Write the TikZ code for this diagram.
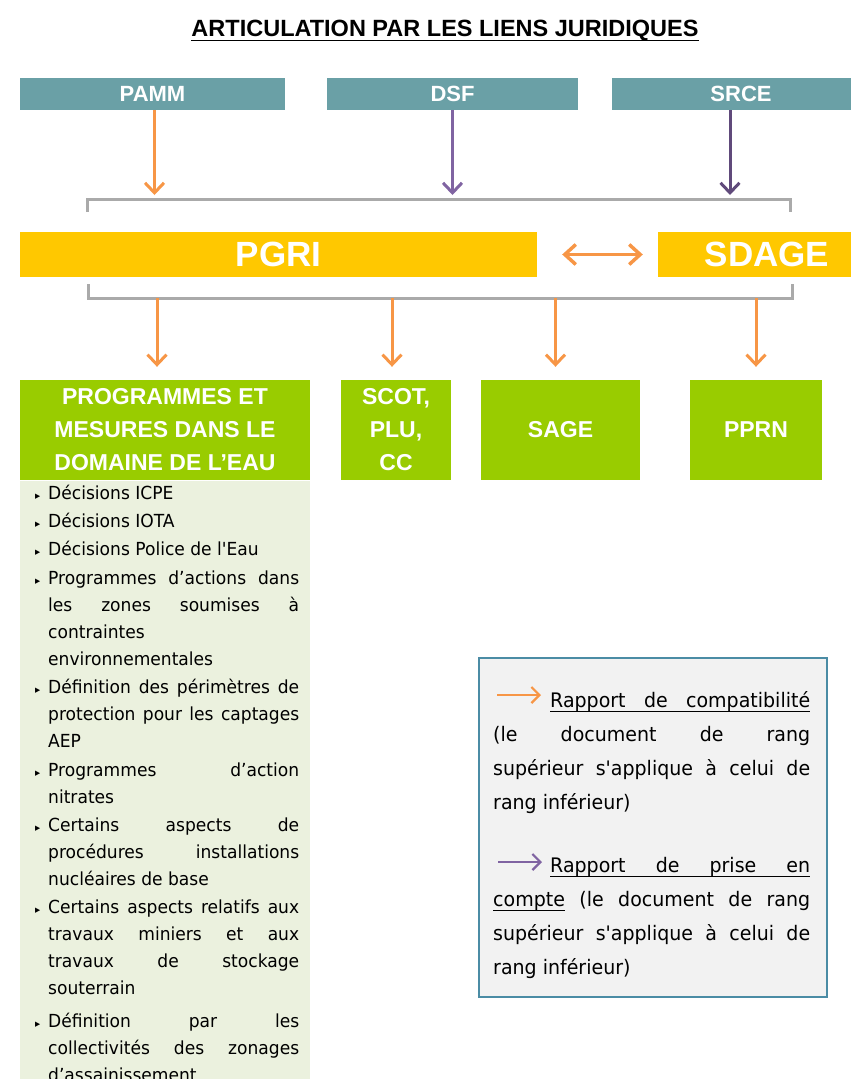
\documentclass[tikz,border=0pt]{standalone}
\usepackage{fontspec}
\setmainfont{Liberation Sans}
\newfontfamily\corps[FakeStretch=0.95]{DejaVu Sans}
\usepackage{graphicx}
\usetikzlibrary{arrows.meta,positioning}

\definecolor{sarcelle}{RGB}{106,160,166}
\definecolor{jaune}{RGB}{255,200,0}
\definecolor{vert}{RGB}{153,204,0}
\definecolor{fondvert}{RGB}{235,241,222}
\definecolor{orangeC}{RGB}{247,150,70}
\definecolor{violetC}{RGB}{128,100,162}
\definecolor{violetF}{RGB}{96,74,123}
\definecolor{grisC}{RGB}{170,170,170}
\definecolor{bleuC}{RGB}{75,140,165}
\definecolor{fondgris}{RGB}{242,242,242}

% puce des listes
\newcommand\puce{\par\noindent\llap{\scalebox{0.6}{▸}\hspace{8pt}}}
% mot souligne et espace soulignee (extensible)
\newcommand\sw[1]{\leavevmode\setbox0\hbox{#1}\rlap{\rule[-5pt]{\wd0}{1.3pt}}\box0\relax}
\newcommand\ssp{\leaders\hrule height -3.7pt depth 5pt\hskip\fontdimen2\font plus \fontdimen3\font minus \fontdimen4\font}

\begin{document}
\begin{tikzpicture}[x=1pt, y=-1pt,
    titre/.style={font=\bfseries\fontsize{23.5}{26}\selectfont, inner sep=0pt},
    bandeau/.style={fill=sarcelle, text=white, minimum height=32pt, inner sep=0pt,
      font=\bfseries\fontsize{22}{24}\selectfont},
    plan/.style={fill=jaune, text=white, minimum height=45pt, inner sep=0pt,
      font=\bfseries\fontsize{35}{38}\selectfont},
    doc/.style={fill=vert, text=white, minimum height=100pt, inner sep=0pt, align=center,
      font=\bfseries\fontsize{23}{33}\selectfont},
    crochet/.style={draw=grisC, line width=3pt},
    compat/.style={-{Straight Barb[length=10pt,width=19pt]}, draw=orangeC, line width=3pt},
    prise/.style={-{Straight Barb[length=10pt,width=19pt]}, draw=violetC, line width=3pt},
    echange/.style={{Straight Barb[length=11pt,width=20pt]}-{Straight Barb[length=11pt,width=20pt]},
      draw=orangeC, line width=3.5pt, shorten <=25pt, shorten >=15pt},
    cadre/.style={draw=bleuC, line width=2pt, fill=fondgris, minimum width=348pt, minimum height=339pt}
  ]
  \useasboundingbox (0,0) rectangle (851,1079);

  \node[titre, anchor=base] (titre) at (445,36) {ARTICULATION PAR LES LIENS JURIDIQUES};
  \draw[line width=1.8pt] ([yshift=-4.5pt]titre.base west) -- ([yshift=-4.5pt]titre.base east);

  % documents de rang superieur
  \node[bandeau, minimum width=265pt] (pamm) at (152.5,94) {PAMM};
  \node[bandeau, minimum width=251pt] (dsf) at (452.5,94) {DSF};
  \node[bandeau, minimum width=258pt] (srce) at (741,94) {SRCE};

  \node[plan, minimum width=517pt] (pgri) at (278.5,254.5) {PGRI};
  \node[plan, minimum width=218pt] (sdage) at (767,254.5) {SDAGE};

  \node[doc, minimum width=290pt] (prog) at (165,430) {PROGRAMMES ET\\MESURES DANS LE\\DOMAINE DE L’EAU};
  \node[doc, minimum width=110pt] (scot) at (396,430) {SCOT,\\PLU,\\CC};
  \node[doc, minimum width=159pt] (sage) at (560.5,430) {SAGE};
  \node[doc, minimum width=132pt] (pprn) at (756,430) {PPRN};

  % crochets
  \coordinate (barreH) at (0,195);
  \coordinate (barreB) at (0,298);
  \draw[crochet] (87,212) -- (87,199) -- (790,199) -- (790,212);
  \draw[crochet] (88,284) -- (88,298) -- (792,298) -- (792,284);

  \draw[compat] ([xshift=2pt]pamm.south) -- ([xshift=2pt]pamm.south |- barreH);
  \draw[prise] (dsf.south) -- (dsf.south |- barreH);
  \draw[prise, draw=violetF] ([xshift=-11pt]srce.south) -- ([xshift=-11pt]srce.south |- barreH);
  \draw[echange] (pgri) -- (sdage);

  \draw[compat] ([xshift=-8pt]prog.north |- barreB) -- ([xshift=-8pt, yshift=13pt]prog.north);
  \draw[compat] ([xshift=-4pt]scot.north |- barreB) -- ([xshift=-4pt, yshift=13pt]scot.north);
  \draw[compat] ([xshift=-5pt]sage.north |- barreB) -- ([xshift=-5pt, yshift=13pt]sage.north);
  \draw[compat] (pprn.north |- barreB) -- ([yshift=13pt]pprn.north);

  % liste sous le domaine de l'eau
  \fill[fondvert] (20,481) rectangle (310,1079);
  \node[anchor=base west, inner sep=0pt] (liste) at (48,499) {\parbox[t]{251pt}{%
    \corps\fontsize{18}{27}\selectfont\setlength\parskip{1.4pt}%
    \puce Décisions ICPE
    \puce Décisions IOTA
    \puce Décisions Police de l'Eau
    \puce Programmes d’actions dans\linebreak les zones soumises à\linebreak contraintes\newline environnementales
    \puce Définition des périmètres de\linebreak protection pour les captages\linebreak AEP
    \puce Programmes d’action\linebreak nitrates
    \puce Certains aspects de\linebreak procédures installations\linebreak nucléaires de base
    \puce Certains aspects relatifs aux\linebreak travaux miniers et aux\linebreak travaux de stockage\linebreak souterrain
    \par\vspace{4pt}%
    \puce Définition par les\linebreak collectivités des zonages\linebreak d’assainissement\par}};

  % legende
  \node[cadre] (legende) at (653,827.5) {};
  \node[anchor=base west, inner sep=0pt] (texteleg) at (493,707) {\parbox[t]{317pt}{%
    \corps\fontsize{20}{34}\selectfont
    \noindent\hspace*{57pt}\sw{Rapport}\ssp\sw{de}\ssp\sw{compatibilité}\linebreak (le document de rang\linebreak supérieur s'applique à celui de\linebreak rang inférieur)\par
    \vspace{29pt}%
    \noindent\hspace*{57pt}\sw{Rapport}\ssp\sw{de}\ssp\sw{prise}\ssp\sw{en}\linebreak \sw{compte} (le document de rang\linebreak supérieur s'applique à celui de\linebreak rang inférieur)\par}};
  \coordinate (legA1) at (497,695);
  \coordinate (legA2) at (541,695);
  \coordinate (legB1) at (498,862);
  \coordinate (legB2) at (542,862);
  \draw[compat, line width=2.2pt, -{Straight Barb[length=8pt,width=16pt]}] (legA1) -- (legA2);
  \draw[prise, line width=2.2pt, -{Straight Barb[length=8pt,width=16pt]}] (legB1) -- (legB2);
\end{tikzpicture}
\end{document}
